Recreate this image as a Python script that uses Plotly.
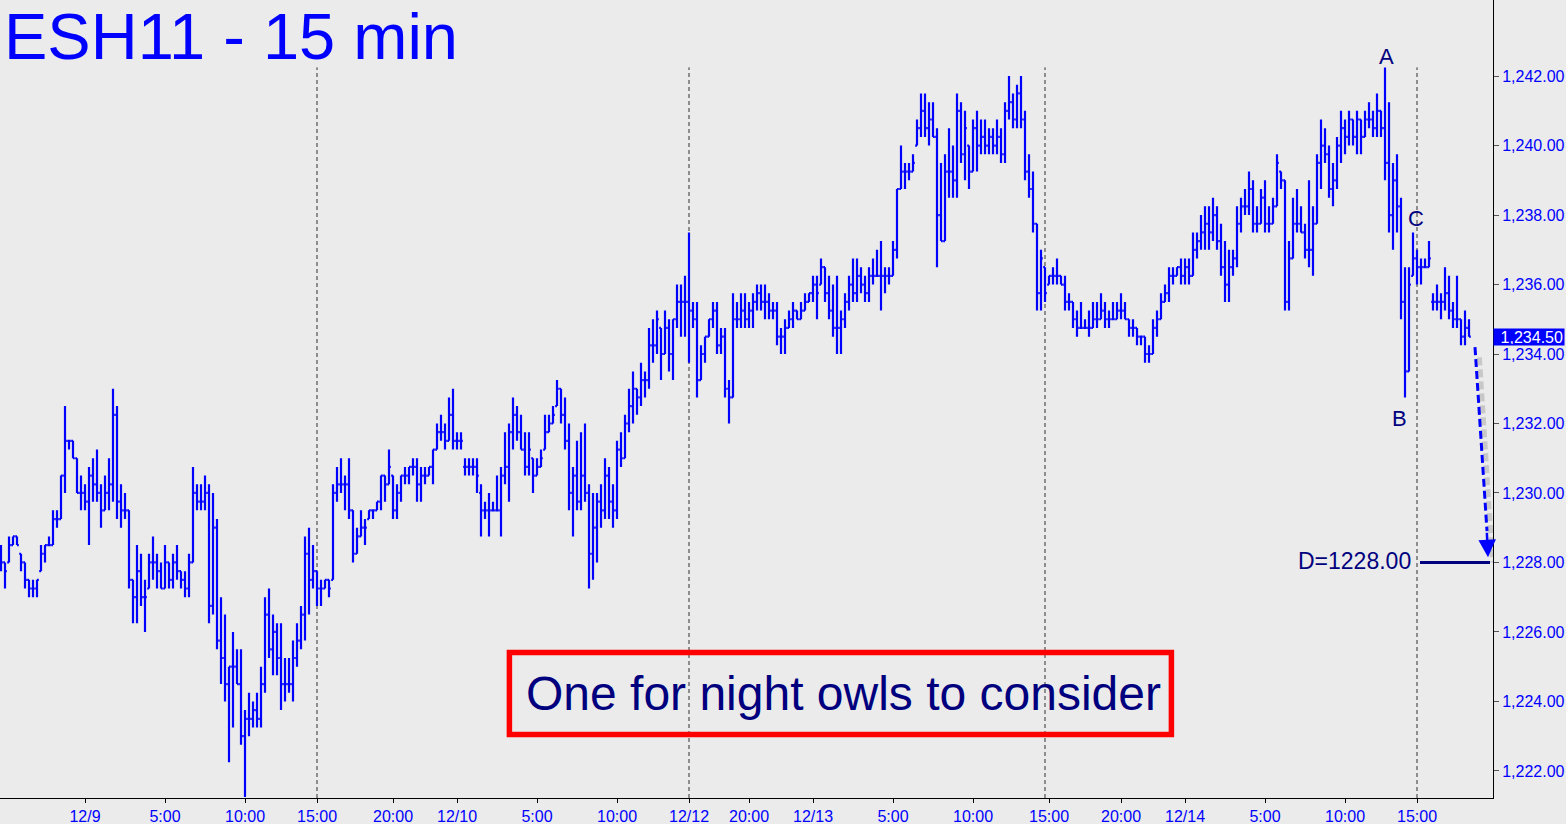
import plotly.graph_objects as go

# ---------------- data (15-minute bars, ESH11) ----------------
opens = [
    1228.25, 1228.0, 1228.0, 1228.5, 1228.75, 1228.25, 1228.0, 1227.5, 1227.25, 1227.25,
    1227.75, 1228.25, 1228.5, 1228.5, 1229.25, 1229.25, 1230.5, 1231.5, 1231.5, 1231.0,
    1230.0, 1230.0, 1229.75, 1230.5, 1230.25, 1230.0, 1229.5, 1230.0, 1230.25, 1232.25,
    1229.75, 1229.5, 1229.5, 1227.5, 1227.0, 1227.75, 1227.0, 1227.25, 1228.0, 1228.0,
    1227.75, 1227.25, 1228.0, 1227.5, 1228.0, 1227.75, 1227.5, 1227.25, 1228.0, 1230.0,
    1229.75, 1229.75, 1230.0, 1226.75, 1229.0, 1225.75, 1225.25, 1224.5, 1225.0, 1225.0,
    1224.5, 1223.0, 1223.5, 1223.5, 1223.75, 1223.5, 1224.5, 1226.5, 1225.5, 1226.0,
    1225.25, 1224.5, 1224.5, 1224.5, 1225.25, 1225.75, 1226.5, 1228.25, 1227.5, 1227.75,
    1227.25, 1227.25, 1227.5, 1227.5, 1230.0, 1230.25, 1230.25, 1230.25, 1229.5, 1228.25,
    1228.75, 1229.0, 1229.25, 1229.5, 1229.5, 1229.75, 1230.5, 1230.25, 1230.5, 1229.5,
    1230.0, 1230.5, 1230.5, 1230.75, 1230.75, 1230.25, 1230.5, 1230.5, 1230.75, 1231.25,
    1231.75, 1231.75, 1231.5, 1232.25, 1231.5, 1231.5, 1230.75, 1230.75, 1230.75, 1230.75,
    1230.0, 1229.5, 1229.5, 1229.5, 1229.5, 1229.5, 1230.5, 1230.75, 1231.75, 1232.25,
    1231.75, 1231.25, 1230.75, 1231.0, 1230.5, 1230.75, 1231.25, 1231.75, 1232.0, 1232.5,
    1233.0, 1232.25, 1231.5, 1230.0, 1230.5, 1229.75, 1230.5, 1230.0, 1228.25, 1229.0,
    1229.75, 1229.5, 1230.5, 1229.75, 1229.5, 1231.25, 1231.0, 1232.0, 1232.5, 1233.0,
    1232.75, 1233.25, 1233.25, 1234.25, 1234.25, 1234.75, 1234.0, 1234.75, 1234.0, 1235.0,
    1235.5, 1235.5, 1235.5, 1235.25, 1235.0, 1233.25, 1234.0, 1234.5, 1235.0, 1235.25,
    1234.25, 1234.5, 1233.0, 1232.75, 1235.0, 1235.0, 1235.25, 1235.0, 1235.25, 1235.5,
    1235.75, 1235.5, 1235.5, 1235.25, 1235.25, 1234.5, 1234.5, 1234.75, 1235.0, 1235.25,
    1235.0, 1235.25, 1235.5, 1235.75, 1236.0, 1236.0, 1236.5, 1235.75, 1235.25, 1234.75,
    1234.75, 1235.0, 1235.5, 1236.0, 1235.75, 1236.25, 1236.0, 1235.75, 1236.25, 1236.25,
    1236.25, 1236.25, 1236.25, 1236.25, 1237.0, 1238.75, 1239.25, 1239.25, 1239.25, 1240.0,
    1240.5, 1241.0, 1240.5, 1240.75, 1240.25, 1238.0, 1237.25, 1239.25, 1239.25, 1239.0,
    1241.0, 1239.75, 1240.0, 1239.25, 1240.5, 1240.0, 1240.25, 1240.0, 1240.25, 1240.0,
    1240.25, 1239.75, 1241.0, 1241.25, 1240.75, 1241.5, 1240.75, 1239.25, 1238.75, 1237.75,
    1235.75, 1236.5, 1236.0, 1236.25, 1236.25, 1236.25, 1236.0, 1235.5, 1235.5, 1235.0,
    1234.75, 1234.75, 1234.75, 1234.75, 1235.0, 1235.0, 1235.25, 1235.0, 1235.0, 1235.0,
    1235.25, 1235.25, 1235.0, 1234.75, 1234.75, 1234.5, 1234.5, 1234.0, 1234.0, 1234.75,
    1235.0, 1235.5, 1235.75, 1236.25, 1236.25, 1236.5, 1236.25, 1236.5, 1236.25, 1237.0,
    1237.25, 1237.5, 1237.75, 1237.5, 1238.0, 1237.25, 1236.5, 1236.0, 1236.5, 1236.75,
    1237.75, 1238.25, 1238.25, 1238.75, 1237.75, 1237.75, 1238.5, 1237.75, 1237.75, 1238.25,
    1239.25, 1239.0, 1235.5, 1236.75, 1237.75, 1237.75, 1237.5, 1237.0, 1237.0, 1237.75,
    1239.5, 1240.0, 1239.75, 1238.75, 1239.0, 1240.0, 1240.5, 1240.25, 1240.75, 1240.25,
    1240.75, 1240.25, 1240.75, 1240.75, 1240.5, 1241.0, 1240.5, 1239.5, 1238.0, 1239.0,
    1238.25, 1235.5, 1233.5, 1236.25, 1236.75, 1236.5, 1236.5, 1236.5, 1235.5, 1235.5,
    1235.5, 1235.5, 1235.75, 1235.25, 1235.0, 1235.0, 1234.5, 1234.75,
]

highs = [
    1228.5, 1228.0, 1228.75, 1228.75, 1228.75, 1228.25, 1228.0, 1227.5, 1227.5, 1227.5,
    1228.5, 1228.5, 1228.75, 1229.5, 1229.5, 1230.5, 1232.5, 1231.5, 1231.5, 1231.0,
    1230.5, 1230.25, 1230.75, 1231.0, 1231.25, 1230.25, 1230.5, 1231.0, 1233.0, 1232.5,
    1230.25, 1230.0, 1229.5, 1227.5, 1228.5, 1228.25, 1227.5, 1228.25, 1228.75, 1228.25,
    1228.0, 1228.5, 1228.0, 1228.25, 1228.5, 1227.75, 1227.75, 1228.25, 1230.75, 1230.25,
    1230.25, 1230.5, 1230.25, 1230.0, 1229.25, 1227.0, 1226.5, 1225.0, 1226.0, 1225.5,
    1225.5, 1223.75, 1224.25, 1224.0, 1224.25, 1225.0, 1227.0, 1227.25, 1226.5, 1226.25,
    1226.25, 1225.25, 1225.25, 1225.75, 1226.25, 1226.75, 1228.75, 1229.0, 1228.5, 1227.75,
    1227.5, 1227.5, 1227.5, 1230.25, 1230.75, 1231.0, 1230.5, 1231.0, 1229.5, 1229.0,
    1229.5, 1229.25, 1229.5, 1229.5, 1229.75, 1230.5, 1230.5, 1231.25, 1230.5, 1230.25,
    1230.5, 1230.75, 1230.75, 1231.0, 1231.0, 1230.75, 1230.75, 1230.75, 1231.25, 1232.0,
    1232.25, 1232.0, 1232.75, 1233.0, 1231.75, 1231.75, 1231.0, 1231.0, 1231.0, 1231.0,
    1230.25, 1229.75, 1230.0, 1229.75, 1230.5, 1230.75, 1231.75, 1232.0, 1232.75, 1232.5,
    1232.25, 1231.75, 1231.75, 1231.0, 1231.0, 1231.25, 1232.25, 1232.25, 1232.5, 1233.25,
    1233.0, 1232.75, 1232.0, 1230.75, 1231.5, 1231.75, 1232.0, 1230.25, 1230.0, 1230.0,
    1230.25, 1231.0, 1230.75, 1230.25, 1231.5, 1231.75, 1232.25, 1233.0, 1233.5, 1233.0,
    1233.75, 1233.5, 1234.75, 1235.0, 1235.25, 1234.75, 1235.25, 1235.0, 1235.0, 1236.0,
    1236.0, 1236.25, 1237.5, 1235.5, 1235.5, 1234.25, 1234.5, 1235.0, 1235.5, 1235.5,
    1234.75, 1234.75, 1233.25, 1235.75, 1235.5, 1235.75, 1235.75, 1235.5, 1235.75, 1236.0,
    1236.0, 1236.0, 1235.75, 1235.5, 1235.5, 1234.75, 1235.0, 1235.25, 1235.5, 1235.25,
    1235.5, 1235.75, 1235.75, 1236.25, 1236.25, 1236.75, 1236.5, 1236.25, 1236.0, 1236.25,
    1235.25, 1235.75, 1236.25, 1236.75, 1236.75, 1236.5, 1236.25, 1236.5, 1236.75, 1237.0,
    1237.25, 1236.5, 1236.5, 1237.25, 1238.75, 1240.0, 1239.5, 1239.5, 1239.75, 1240.75,
    1241.5, 1241.5, 1241.25, 1241.25, 1240.5, 1239.5, 1239.75, 1240.5, 1240.0, 1241.5,
    1241.25, 1241.0, 1240.0, 1240.75, 1241.0, 1240.75, 1240.75, 1240.5, 1240.5, 1240.75,
    1240.5, 1241.25, 1242.0, 1241.5, 1241.75, 1242.0, 1241.0, 1239.75, 1239.25, 1237.75,
    1237.0, 1236.5, 1236.25, 1236.5, 1236.75, 1236.25, 1236.25, 1235.75, 1235.5, 1235.25,
    1235.5, 1235.0, 1235.25, 1235.5, 1235.5, 1235.75, 1235.5, 1235.25, 1235.5, 1235.5,
    1235.75, 1235.5, 1235.0, 1235.0, 1234.75, 1234.5, 1234.5, 1234.25, 1235.0, 1235.25,
    1235.75, 1236.0, 1236.5, 1236.5, 1236.5, 1236.75, 1236.75, 1236.75, 1237.5, 1237.5,
    1238.0, 1238.25, 1238.25, 1238.5, 1238.25, 1237.75, 1237.25, 1237.0, 1237.0, 1238.25,
    1238.5, 1238.75, 1239.25, 1239.0, 1238.25, 1238.75, 1239.0, 1238.25, 1238.5, 1239.75,
    1239.25, 1239.0, 1237.25, 1238.5, 1238.75, 1238.25, 1237.75, 1239.0, 1238.25, 1239.75,
    1240.75, 1240.5, 1240.0, 1239.5, 1240.25, 1241.0, 1240.75, 1241.0, 1240.75, 1241.0,
    1240.75, 1241.0, 1241.25, 1241.0, 1241.5, 1241.0, 1242.25, 1241.25, 1239.5, 1239.75,
    1238.5, 1236.5, 1236.5, 1237.5, 1237.0, 1236.75, 1236.75, 1237.25, 1235.75, 1236.0,
    1235.75, 1236.5, 1236.25, 1235.5, 1236.25, 1235.0, 1235.25, 1235.0,
]

lows = [
    1227.75, 1227.25, 1228.0, 1228.5, 1228.5, 1227.75, 1227.25, 1227.0, 1227.0, 1227.0,
    1227.75, 1228.0, 1228.5, 1228.5, 1229.0, 1229.25, 1230.0, 1231.25, 1231.0, 1230.0,
    1229.5, 1229.5, 1228.5, 1229.75, 1229.75, 1229.0, 1229.5, 1229.5, 1229.75, 1229.25,
    1229.0, 1229.25, 1227.25, 1226.25, 1226.25, 1226.75, 1226.0, 1227.25, 1227.5, 1227.25,
    1227.25, 1227.25, 1227.25, 1227.25, 1227.5, 1227.25, 1227.0, 1227.0, 1228.0, 1229.5,
    1229.5, 1229.5, 1226.25, 1226.5, 1225.5, 1224.5, 1224.0, 1222.25, 1223.25, 1224.5,
    1222.75, 1221.25, 1223.0, 1223.25, 1223.25, 1223.25, 1224.25, 1225.25, 1224.75, 1224.75,
    1223.75, 1224.0, 1224.25, 1224.0, 1225.0, 1225.5, 1225.75, 1226.5, 1227.25, 1226.75,
    1226.75, 1227.25, 1227.0, 1227.5, 1229.75, 1230.0, 1229.5, 1229.25, 1228.0, 1228.25,
    1228.75, 1228.5, 1229.25, 1229.25, 1229.5, 1229.5, 1229.75, 1230.25, 1229.25, 1229.25,
    1229.75, 1230.25, 1230.25, 1230.5, 1229.75, 1229.75, 1230.25, 1230.5, 1230.25, 1231.25,
    1231.5, 1231.25, 1231.5, 1231.25, 1231.25, 1231.25, 1230.5, 1230.5, 1230.5, 1230.0,
    1228.75, 1229.25, 1228.75, 1229.5, 1229.5, 1228.75, 1230.25, 1229.75, 1231.25, 1231.5,
    1231.25, 1230.5, 1230.5, 1230.0, 1230.5, 1230.75, 1231.25, 1231.75, 1232.0, 1232.5,
    1232.0, 1231.25, 1229.5, 1228.75, 1229.5, 1229.5, 1229.75, 1227.25, 1227.5, 1228.0,
    1229.0, 1229.25, 1229.25, 1229.0, 1229.25, 1230.75, 1231.0, 1231.75, 1232.0, 1232.25,
    1232.5, 1232.75, 1233.0, 1233.75, 1234.0, 1233.25, 1234.0, 1233.5, 1233.25, 1234.75,
    1234.5, 1234.5, 1233.75, 1234.75, 1232.75, 1233.25, 1233.75, 1234.5, 1234.75, 1234.0,
    1234.0, 1232.75, 1232.0, 1232.75, 1234.75, 1234.75, 1234.75, 1234.75, 1234.75, 1235.25,
    1235.25, 1235.0, 1235.0, 1235.0, 1234.25, 1234.0, 1234.0, 1234.75, 1234.75, 1235.0,
    1235.0, 1235.25, 1235.5, 1235.5, 1235.0, 1236.0, 1235.5, 1235.0, 1234.5, 1234.0,
    1234.0, 1234.75, 1235.25, 1235.5, 1235.5, 1235.75, 1235.5, 1235.5, 1236.0, 1236.25,
    1235.25, 1235.75, 1236.0, 1236.25, 1236.75, 1238.75, 1238.75, 1239.0, 1239.25, 1240.0,
    1240.25, 1240.25, 1240.0, 1240.25, 1236.5, 1237.25, 1237.25, 1238.5, 1238.5, 1238.5,
    1239.5, 1239.0, 1238.75, 1239.25, 1239.25, 1239.75, 1239.75, 1239.75, 1239.75, 1239.75,
    1239.5, 1239.5, 1240.75, 1240.5, 1240.5, 1240.5, 1239.0, 1238.5, 1237.5, 1235.25,
    1235.25, 1235.5, 1236.0, 1236.0, 1236.0, 1236.0, 1235.25, 1235.25, 1234.75, 1234.5,
    1234.75, 1234.75, 1234.5, 1234.75, 1234.75, 1235.0, 1234.75, 1234.75, 1235.0, 1235.0,
    1235.0, 1235.0, 1234.5, 1234.5, 1234.25, 1234.25, 1233.75, 1233.75, 1234.0, 1234.5,
    1235.0, 1235.5, 1235.5, 1236.0, 1236.25, 1236.0, 1236.0, 1236.0, 1236.25, 1236.75,
    1237.0, 1237.0, 1237.0, 1237.25, 1237.0, 1236.25, 1235.5, 1235.5, 1236.25, 1236.5,
    1237.5, 1238.0, 1238.0, 1237.5, 1237.5, 1237.75, 1237.5, 1237.5, 1237.75, 1238.25,
    1238.75, 1235.25, 1235.25, 1236.75, 1237.5, 1237.5, 1236.75, 1236.5, 1236.25, 1237.75,
    1238.75, 1239.5, 1238.5, 1238.25, 1238.75, 1239.5, 1239.75, 1240.0, 1240.0, 1239.75,
    1239.75, 1240.25, 1240.5, 1240.25, 1240.25, 1240.25, 1239.0, 1237.5, 1237.0, 1237.5,
    1235.0, 1232.75, 1233.5, 1236.25, 1236.0, 1236.0, 1236.5, 1236.5, 1235.25, 1235.25,
    1235.0, 1235.25, 1235.0, 1234.75, 1234.75, 1234.25, 1234.25, 1234.5,
]

closes = [
    1228.0, 1227.75, 1228.5, 1228.75, 1228.5, 1228.0, 1227.5, 1227.25, 1227.25, 1227.5,
    1228.25, 1228.5, 1228.5, 1229.25, 1229.25, 1230.5, 1231.5, 1231.5, 1231.0, 1230.0,
    1230.0, 1229.75, 1230.5, 1230.25, 1230.0, 1229.5, 1230.0, 1230.25, 1232.25, 1229.75,
    1229.5, 1229.5, 1227.5, 1227.0, 1227.75, 1227.0, 1227.0, 1228.0, 1228.0, 1227.75,
    1227.25, 1228.0, 1227.5, 1228.0, 1227.75, 1227.5, 1227.25, 1228.0, 1230.0, 1229.75,
    1229.75, 1230.0, 1226.75, 1229.0, 1225.75, 1225.25, 1224.5, 1225.0, 1225.0, 1224.5,
    1223.0, 1223.5, 1223.5, 1223.75, 1223.5, 1224.5, 1226.5, 1225.5, 1226.0, 1225.25,
    1224.5, 1224.5, 1224.5, 1225.25, 1225.75, 1226.5, 1228.25, 1227.5, 1227.75, 1227.25,
    1227.25, 1227.5, 1227.25, 1230.0, 1230.25, 1230.25, 1230.25, 1229.5, 1228.25, 1228.75,
    1229.0, 1229.0, 1229.5, 1229.5, 1229.75, 1230.5, 1230.25, 1230.75, 1229.5, 1230.0,
    1230.5, 1230.5, 1230.75, 1230.75, 1230.25, 1230.5, 1230.5, 1230.75, 1231.25, 1231.75,
    1231.75, 1231.5, 1232.25, 1231.5, 1231.5, 1231.5, 1230.75, 1230.75, 1230.75, 1230.5,
    1229.5, 1229.5, 1229.5, 1229.5, 1229.5, 1230.5, 1230.75, 1231.75, 1232.25, 1231.75,
    1231.25, 1230.75, 1231.25, 1230.5, 1230.75, 1231.0, 1231.75, 1232.0, 1232.25, 1233.0,
    1232.25, 1231.5, 1230.0, 1230.5, 1229.75, 1230.5, 1230.0, 1228.25, 1229.0, 1229.75,
    1229.5, 1230.5, 1229.75, 1229.5, 1231.25, 1231.0, 1232.0, 1232.5, 1233.0, 1232.75,
    1233.25, 1233.25, 1234.25, 1234.25, 1235.0, 1234.0, 1234.75, 1234.0, 1235.0, 1235.5,
    1235.5, 1235.5, 1235.25, 1235.0, 1233.25, 1234.0, 1234.5, 1235.0, 1235.25, 1234.25,
    1234.5, 1233.0, 1232.75, 1235.0, 1235.0, 1235.25, 1235.0, 1235.25, 1235.5, 1235.75,
    1235.5, 1235.5, 1235.25, 1235.25, 1234.5, 1234.5, 1234.75, 1235.0, 1235.25, 1235.0,
    1235.25, 1235.5, 1235.75, 1236.0, 1235.75, 1236.5, 1235.75, 1235.25, 1234.75, 1234.75,
    1235.0, 1235.5, 1236.0, 1235.75, 1236.25, 1236.0, 1235.75, 1236.25, 1236.25, 1236.25,
    1236.25, 1236.25, 1236.25, 1237.0, 1238.75, 1239.25, 1239.25, 1239.25, 1239.5, 1240.5,
    1241.0, 1240.5, 1240.75, 1240.25, 1238.0, 1237.25, 1239.25, 1239.25, 1239.0, 1241.0,
    1239.75, 1240.5, 1239.25, 1240.5, 1240.0, 1240.25, 1240.0, 1240.25, 1240.0, 1240.25,
    1239.75, 1241.0, 1241.25, 1240.75, 1241.5, 1240.75, 1239.25, 1238.75, 1237.75, 1235.75,
    1236.75, 1235.75, 1236.25, 1236.25, 1236.25, 1236.0, 1235.5, 1235.5, 1235.0, 1234.75,
    1234.75, 1234.75, 1234.75, 1235.0, 1235.0, 1235.25, 1235.0, 1235.0, 1235.0, 1235.25,
    1235.25, 1235.0, 1234.75, 1234.75, 1234.5, 1234.5, 1234.0, 1234.0, 1234.75, 1235.0,
    1235.5, 1235.75, 1236.25, 1236.25, 1236.5, 1236.25, 1236.5, 1236.25, 1237.0, 1237.25,
    1237.5, 1237.75, 1237.5, 1238.0, 1237.25, 1236.5, 1236.0, 1236.5, 1236.75, 1237.75,
    1238.25, 1238.25, 1238.75, 1237.75, 1237.75, 1238.5, 1237.75, 1237.75, 1238.25, 1239.5,
    1239.0, 1235.5, 1236.75, 1237.75, 1237.75, 1237.5, 1237.0, 1237.0, 1237.75, 1239.5,
    1240.0, 1239.75, 1238.75, 1239.0, 1240.0, 1240.5, 1240.25, 1240.75, 1240.25, 1240.75,
    1240.25, 1240.75, 1240.75, 1240.5, 1241.0, 1240.5, 1239.5, 1238.0, 1239.0, 1238.25,
    1235.5, 1233.5, 1236.0, 1236.75, 1236.5, 1236.5, 1236.5, 1236.75, 1235.5, 1235.5,
    1235.5, 1235.75, 1235.25, 1235.0, 1235.0, 1234.5, 1234.75, 1234.5,
]

# x-axis labels (bar index where each label sits)
tick_bars = [21, 41, 61, 79, 98, 114, 134, 154, 172, 187, 203, 223, 243, 262, 280, 296, 316, 336, 354]
tick_labels = ["12/9", "5:00", "10:00", "15:00", "20:00", "12/10", "5:00", "10:00", "12/12",
               "20:00", "12/13", "5:00", "10:00", "15:00", "20:00", "12/14", "5:00", "10:00", "15:00"]

# session separators (bar index)
session_breaks = [79, 172, 261, 354]

# price axis ticks
price_ticks = [1222, 1224, 1226, 1228, 1230, 1232, 1234, 1236, 1238, 1240, 1242]
last_price = 1234.50
target_price = 1228.00

# pattern points: label, bar index, price
abc_labels = ["A", "B", "C"]
abc_bars = [346.25, 349.5, 353.75]
abc_prices = [1242.55, 1232.15, 1237.9]

n = len(highs)
assert len(opens) == n and len(lows) == n and len(closes) == n, (len(opens), n, len(lows), len(closes))
x = list(range(n))

BLUE = "#0000FF"
NAVY = "#00007F"
BG = "#EBEBEB"
FONT = "Liberation Sans, Arial, sans-serif"

fig = go.Figure()
fig.add_trace(go.Ohlc(
    x=x, open=opens, high=highs, low=lows, close=closes,
    increasing=dict(line=dict(color=BLUE, width=2.2)),
    decreasing=dict(line=dict(color=BLUE, width=2.2)),
    tickwidth=0.45, hoverinfo="skip", showlegend=False,
))

Y0, Y1 = 1221.22, 1244.19
X0, X1 = -0.25, 373.0

# session separators
for b in session_breaks:
    fig.add_shape(type="line", xref="x", yref="y", x0=b, x1=b, y0=Y0, y1=1242.25,
                  line=dict(color="#303030", width=1, dash="4px,3px"), layer="below")

# target line
fig.add_shape(type="line", xref="x", yref="y", x0=354.75, x1=372.25,
              y0=target_price, y1=target_price, line=dict(color=NAVY, width=3))

# arrow shadow + dashed arrow
fig.add_shape(type="line", xref="x", yref="y", x0=369.6, x1=372.9, y0=1233.9, y1=1228.0,
              line=dict(color="rgba(120,120,120,0.30)", width=5, dash="8px,4px"))
fig.add_shape(type="line", xref="x", yref="y", x0=368.5, x1=371.5, y0=1234.2, y1=1228.9,
              line=dict(color=BLUE, width=3, dash="8px,4px"))
fig.add_annotation(x=371.75, y=1228.15, ax=371.45, ay=1228.9, xref="x", yref="y",
                   axref="x", ayref="y", text="", showarrow=True, arrowhead=2,
                   arrowsize=1.4, arrowwidth=2.5, arrowcolor=BLUE)

# red box with comment
fig.add_shape(type="rect", xref="x", yref="y", x0=127.1, x1=292.6, y0=1223.05, y1=1225.41,
              line=dict(color="#FF0000", width=5.5), fillcolor="rgba(0,0,0,0)")
fig.add_annotation(x=210.6, y=1224.23, xref="x", yref="y", text="One for night owls to consider",
                   showarrow=False, font=dict(family=FONT, size=48, color=NAVY))

# A B C labels
for lab, bx, py in zip(abc_labels, abc_bars, abc_prices):
    fig.add_annotation(x=bx, y=py, xref="x", yref="y", text=lab, showarrow=False,
                       font=dict(family=FONT, size=22, color=NAVY))

# D target text
fig.add_annotation(x=352.9, y=target_price + 0.05, xref="x", yref="y", text="D=1228.00",
                   showarrow=False, xanchor="right",
                   font=dict(family=FONT, size=23, color=NAVY))

# last price tag
fig.add_annotation(x=1.0, y=last_price, xref="paper", yref="y", text="1,234.50",
                   showarrow=False, xanchor="left", align="right", width=68, height=14,
                   bgcolor=BLUE, borderpad=1, font=dict(family=FONT, size=16, color="white"))

# title
fig.add_annotation(x=0.0, y=1.0, xref="paper", yref="paper", text="ESH11 - 15 min",
                   showarrow=False, xanchor="left", yanchor="top", xshift=2, yshift=2,
                   font=dict(family=FONT, size=65, color=BLUE))

fig.update_layout(
    width=1566, height=824,
    margin=dict(l=0, r=73, t=0, b=26),
    paper_bgcolor=BG, plot_bgcolor=BG,
    showlegend=False,
    font=dict(family=FONT, color=BLUE, size=16),
    xaxis=dict(range=[X0, X1], tickmode="array", tickvals=tick_bars, ticktext=tick_labels,
               showgrid=False, zeroline=False, showline=True, linecolor="black", linewidth=1,
               ticks="outside", ticklen=4, tickcolor="black",
               tickfont=dict(family=FONT, size=16, color=BLUE),
               rangeslider=dict(visible=False), fixedrange=True),
    yaxis=dict(range=[Y0, Y1], side="right", tickmode="array", tickvals=price_ticks,
               tickformat=",.2f", showgrid=False, zeroline=False, showline=True,
               linecolor="black", linewidth=1, ticks="outside", ticklen=5, tickcolor="#555555",
               tickfont=dict(family=FONT, size=16, color=BLUE), fixedrange=True),
)

fig.write_html(
    "out.html",
    config={"displayModeBar": False},
    post_script="document.body.style.margin='0';document.body.style.background='#EBEBEB';",
)
